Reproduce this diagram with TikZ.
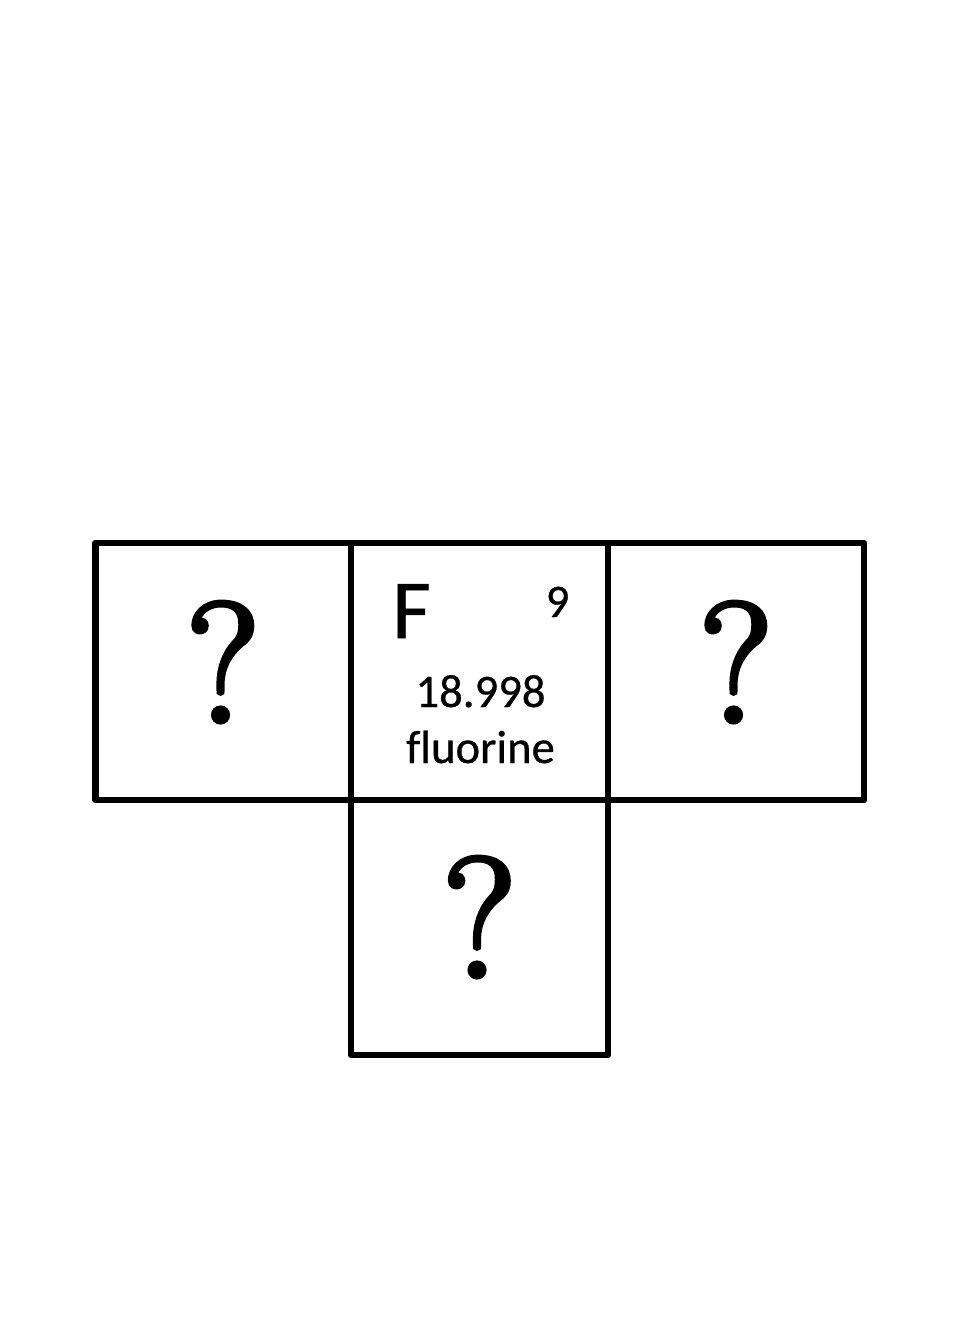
\documentclass[tikz,border=0pt]{standalone}
\usepackage{fontspec}
\newfontfamily\calfont[Ligatures=NoCommon,FakeBold=0.6]{Carlito}
\newfontfamily\qfont[FakeBold=3]{Latin Modern Roman}
\begin{document}
\begin{tikzpicture}[x=0.75pt,y=-0.75pt,
  cell/.style={draw=black,line width=5pt,line join=round},
  qmark/.style={anchor=base,inner sep=0pt,font=\qfont\fontsize{128}{128}\selectfont},
  elem/.style={anchor=base,inner sep=0pt,font=\calfont\fontsize{35}{42}\selectfont}]
\useasboundingbox (0,0) rectangle (960,1344);
\fill[white] (0,0) rectangle (960,1344);
\draw[cell] (95.5,543) rectangle (351,800);
\draw[cell] (351,543) rectangle (608,800);
\draw[cell] (608,543) rectangle (864,800);
\draw[cell] (351,800) rectangle (608,1055);
\node[qmark] (qL) at (223,722) {?};
\node[qmark] (qR) at (736,722) {?};
\node[qmark] (qB) at (479.5,977) {?};
\node[elem,font=\calfont\fontsize{63}{70}\selectfont] (sym) at (411.5,638) {F};
\node[elem] (num) at (557.5,617) {9};
\node[elem] (mass) at (480.5,707) {18.998};
\node[elem] (name) at (480.5,763) {fluorine};
\end{tikzpicture}
\end{document}
